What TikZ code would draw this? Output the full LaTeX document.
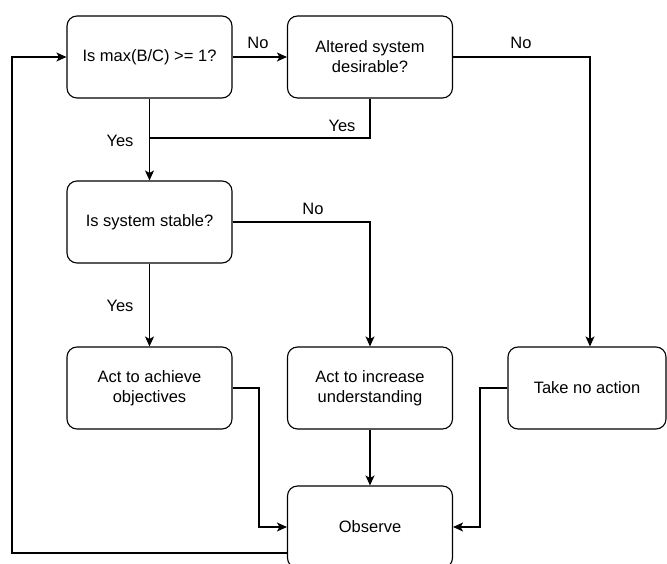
\documentclass[tikz,border=0pt]{standalone}
\usepackage{fontspec}
\setmainfont{Liberation Sans}
\usetikzlibrary{arrows.meta}
\begin{document}
\begin{tikzpicture}[x=1pt,y=-1pt,
  box/.style={draw, rounded corners=10pt, line width=1.1pt, minimum width=165pt, minimum height=82pt, align=center, inner sep=2pt, font=\fontsize{16.5}{20}\selectfont},
  lbl/.style={font=\fontsize{16.5}{20}\selectfont, inner sep=0pt},
  conn/.style={line width=1.1pt},
  arr/.style={conn, -{Stealth[length=10pt,width=9pt,inset=2.5pt]}}]
\useasboundingbox (0,0) rectangle (667,564);
\node[box] (q1) at (149.5,57) {Is max(B/C) >= 1?};
\node[box] (q2) at (370,57) {Altered system\\desirable?};
\node[box] (q3) at (149.5,222) {Is system stable?};
\node[box] (a1) at (149.5,388) {Act to achieve\\objectives};
\node[box] (a2) at (370,388) {Act to increase\\understanding};
\node[box, minimum width=158pt] (a3) at (587,388) {Take no action};
\node[box] (obs) at (370,527) {Observe};
\coordinate (c1) at (590,57);
\coordinate (j1) at (370,138);
\coordinate (j2) at (149.5,138);
\coordinate (c3) at (370,222);
\coordinate (c4) at (259,388);
\coordinate (c5) at (480,388);
\coordinate (l0) at (287,553);
\coordinate (l1) at (12,553);
\coordinate (l2) at (12,57);
\draw[arr] (q1) -- (q2);
\node[lbl] (n1) at (258,43) {No};
\draw[arr] (q2.east) -- (c1) -- (c1 |- a3.north);
\node[lbl] (n2) at (521,43) {No};
\draw[conn] (q2.south) -- (j1) -- (j2);
\node[lbl] (y1) at (342,126) {Yes};
\draw[arr] (q1) -- (q3);
\node[lbl] (y2) at (120,141) {Yes};
\draw[arr] (q3.east) -- (c3) -- (a2.north);
\node[lbl] (n3) at (313,209) {No};
\draw[arr] (q3) -- (a1);
\node[lbl] (y3) at (120,306) {Yes};
\draw[arr] (a1.east) -- (c4) |- (obs.west);
\draw[arr] (a2) -- (obs);
\draw[arr] (a3.west) -- (c5) |- (obs.east);
\draw[arr] (l0) -- (l1) -- (l2) -- (q1.west);
\end{tikzpicture}
\end{document}
